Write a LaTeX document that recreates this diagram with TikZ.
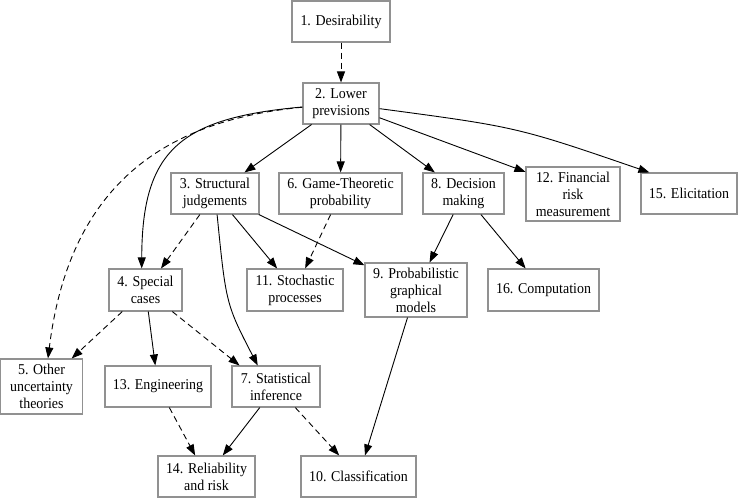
\documentclass[tikz,border=0pt]{standalone}
\usepackage{fontspec}
\setmainfont{Liberation Serif}
\newfontfamily\boxfont[FakeStretch=0.93]{Liberation Serif}
\usetikzlibrary{arrows.meta}
\definecolor{boxgray}{RGB}{145,145,145}
\begin{document}
\begin{tikzpicture}[x=1pt,y=-1pt,
  box/.style={draw=boxgray, line width=1.1pt, rectangle, align=center, inner sep=0pt, font=\boxfont\fontsize{15}{17}\selectfont},
  edge/.style={line width=0.9pt, -{Triangle[length=11pt,width=8pt]}},
  dsh/.style={dash pattern=on 6pt off 4pt}]
\useasboundingbox (0,0) rectangle (738,498);
% nodes
\node[box, minimum width=98pt, minimum height=41pt] (n1) at (341,21.5) {1. Desirability};
\node[box, minimum width=76pt, minimum height=41pt] (n2) at (341,103.5) {2. Lower\\previsions};
\node[box, minimum width=88pt, minimum height=41pt] (n3) at (215,193.5) {3. Structural\\judgements};
\node[box, minimum width=123pt, minimum height=41pt] (n6) at (340.5,193.5) {6. Game-Theoretic\\probability};
\node[box, minimum width=81pt, minimum height=41pt] (n8) at (463.5,193.5) {8. Decision\\making};
\node[box, minimum width=94pt, minimum height=54pt] (n12) at (573,194) {12. Financial\\risk\\measurement};
\node[box, minimum width=96pt, minimum height=41pt] (n15) at (689,193.5) {15. Elicitation};
\node[box, minimum width=73pt, minimum height=42pt] (n4) at (145.5,290) {4. Special\\cases};
\node[box, minimum width=96pt, minimum height=42pt] (n11) at (295,290) {11. Stochastic\\processes};
\node[box, minimum width=102pt, minimum height=54pt] (n9) at (416,290) {9. Probabilistic\\graphical\\models};
\node[box, minimum width=111pt, minimum height=42pt] (n16) at (543.5,290) {16. Computation};
\node[box, minimum width=82pt, minimum height=55pt] (n5) at (41.5,386.5) {5. Other\\uncertainty\\theories};
\node[box, minimum width=106pt, minimum height=41pt] (n13) at (158,386.5) {13. Engineering};
\node[box, minimum width=88pt, minimum height=41pt] (n7) at (276,386.5) {7. Statistical\\inference};
\node[box, minimum width=97pt, minimum height=41pt] (n14) at (206.5,476.5) {14. Reliability\\and risk};
\node[box, minimum width=115pt, minimum height=41pt] (n10) at (358.5,476.5) {10. Classification};
% edges
\draw[edge,dsh] (n1) -- (n2);
\draw[edge] (n2) -- (n3);
\draw[edge] (n2) -- (n6);
\draw[edge] (n2) -- (n8);
\draw[edge] (n2) -- (n12.155);
\draw[edge] (n2) .. controls (517,127) .. (n15.152);
\draw[edge] (n2) .. controls (180,118) and (142,150) .. (n4.100);
\draw[edge,dsh] (n2) .. controls (170,120) and (70,180) .. (n5.77);
\draw[edge,dsh] (n3) -- (n4);
\draw[edge] (n3) .. controls (226,304) .. (n7.131);
\draw[edge] (n3) -- (n11);
\draw[edge] (n3) -- (n9);
\draw[edge,dsh] (n6) -- (n11);
\draw[edge] (n8) -- (n9);
\draw[edge] (n8) -- (n16);
\draw[edge,dsh] (n4) -- (n5);
\draw[edge] (n4) -- (n13);
\draw[edge,dsh] (n4) -- (n7.150);
\draw[edge] (n9) -- (n10);
\draw[edge,dsh] (n13) -- (n14);
\draw[edge] (n7) -- (n14);
\draw[edge,dsh] (n7) -- (n10);
\end{tikzpicture}
\end{document}
